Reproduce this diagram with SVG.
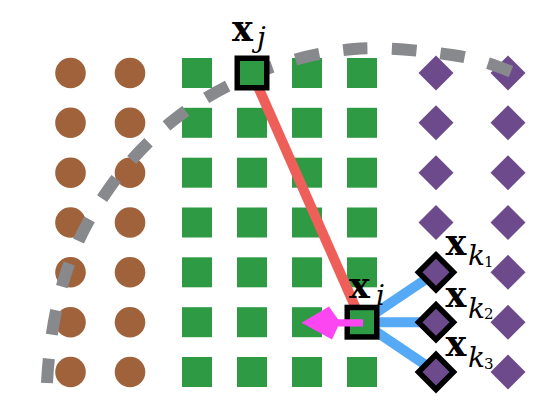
<svg xmlns="http://www.w3.org/2000/svg" xmlns:xlink="http://www.w3.org/1999/xlink" width="560" height="410" viewBox="0 0 560 410">
<style>
.c{fill:#a0623a}
.s{fill:#2f9a44}
.d{fill:#6d4a8b}
.hs{fill:#2f9a44;stroke:#000;stroke-width:5.5}
.hd{fill:#6d4a8b;stroke:#000;stroke-width:5.5;stroke-linejoin:miter}
.b{fill:none;stroke:#87898d;stroke-width:12;stroke-dasharray:24.5 24.2}
.red{stroke:#ee5f5a;stroke-width:10;fill:none}
.blue{stroke:#56a9f5;stroke-width:10;fill:none}
.mx{font-family:"DejaVu Serif",serif;font-weight:bold;font-size:35px;fill:#000}
.mi{font-family:"DejaVu Serif",serif;font-style:italic;font-size:28px;fill:#000}
.md{font-family:"DejaVu Serif",serif;font-size:15px;fill:#000}
</style>
<defs>
<circle id="circ" r="15.3"/>
<rect id="sq" x="-15" y="-15" width="30" height="30"/>
<path id="dia" d="M0,-17.5L17.5,0L0,17.5L-17.5,0Z"/>
<rect id="hsq" x="-14.75" y="-14.75" width="29.5" height="29.5"/>
</defs>
<rect width="560" height="410" fill="#fff"/>
<g id="class-a">
<g id="a11"><use xlink:href="#circ" class="c" x="70.5" y="73"/></g>
<g id="a12"><use xlink:href="#circ" class="c" x="70.5" y="122.8"/></g>
<g id="a13"><use xlink:href="#circ" class="c" x="70.5" y="172.7"/></g>
<g id="a14"><use xlink:href="#circ" class="c" x="70.5" y="222.5"/></g>
<g id="a15"><use xlink:href="#circ" class="c" x="70.5" y="272.3"/></g>
<g id="a16"><use xlink:href="#circ" class="c" x="70.5" y="322.2"/></g>
<g id="a17"><use xlink:href="#circ" class="c" x="70.5" y="372"/></g>
<g id="a21"><use xlink:href="#circ" class="c" x="130" y="73"/></g>
<g id="a22"><use xlink:href="#circ" class="c" x="130" y="122.8"/></g>
<g id="a23"><use xlink:href="#circ" class="c" x="130" y="172.7"/></g>
<g id="a24"><use xlink:href="#circ" class="c" x="130" y="222.5"/></g>
<g id="a25"><use xlink:href="#circ" class="c" x="130" y="272.3"/></g>
<g id="a26"><use xlink:href="#circ" class="c" x="130" y="322.2"/></g>
<g id="a27"><use xlink:href="#circ" class="c" x="130" y="372"/></g>
</g>
<g id="class-b">
<g id="b11"><use xlink:href="#sq" class="s" x="197" y="73"/></g>
<g id="b12"><use xlink:href="#sq" class="s" x="197" y="122.8"/></g>
<g id="b13"><use xlink:href="#sq" class="s" x="197" y="172.7"/></g>
<g id="b14"><use xlink:href="#sq" class="s" x="197" y="222.5"/></g>
<g id="b15"><use xlink:href="#sq" class="s" x="197" y="272.3"/></g>
<g id="b16"><use xlink:href="#sq" class="s" x="197" y="322.2"/></g>
<g id="b17"><use xlink:href="#sq" class="s" x="197" y="372"/></g>
<g id="b22"><use xlink:href="#sq" class="s" x="252" y="122.8"/></g>
<g id="b23"><use xlink:href="#sq" class="s" x="252" y="172.7"/></g>
<g id="b24"><use xlink:href="#sq" class="s" x="252" y="222.5"/></g>
<g id="b25"><use xlink:href="#sq" class="s" x="252" y="272.3"/></g>
<g id="b26"><use xlink:href="#sq" class="s" x="252" y="322.2"/></g>
<g id="b27"><use xlink:href="#sq" class="s" x="252" y="372"/></g>
<g id="b31"><use xlink:href="#sq" class="s" x="307" y="73"/></g>
<g id="b32"><use xlink:href="#sq" class="s" x="307" y="122.8"/></g>
<g id="b33"><use xlink:href="#sq" class="s" x="307" y="172.7"/></g>
<g id="b34"><use xlink:href="#sq" class="s" x="307" y="222.5"/></g>
<g id="b35"><use xlink:href="#sq" class="s" x="307" y="272.3"/></g>
<g id="b36"><use xlink:href="#sq" class="s" x="307" y="322.2"/></g>
<g id="b37"><use xlink:href="#sq" class="s" x="307" y="372"/></g>
<g id="b41"><use xlink:href="#sq" class="s" x="362" y="73"/></g>
<g id="b42"><use xlink:href="#sq" class="s" x="362" y="122.8"/></g>
<g id="b43"><use xlink:href="#sq" class="s" x="362" y="172.7"/></g>
<g id="b44"><use xlink:href="#sq" class="s" x="362" y="222.5"/></g>
<g id="b45"><use xlink:href="#sq" class="s" x="362" y="272.3"/></g>
<g id="b47"><use xlink:href="#sq" class="s" x="362" y="372"/></g>
</g>
<g id="class-c">
<g id="c11"><use xlink:href="#dia" class="d" x="436" y="73"/></g>
<g id="c12"><use xlink:href="#dia" class="d" x="436" y="122.8"/></g>
<g id="c13"><use xlink:href="#dia" class="d" x="436" y="172.7"/></g>
<g id="c14"><use xlink:href="#dia" class="d" x="436" y="222.5"/></g>
<g id="c21"><use xlink:href="#dia" class="d" x="508" y="73"/></g>
<g id="c22"><use xlink:href="#dia" class="d" x="508" y="122.8"/></g>
<g id="c23"><use xlink:href="#dia" class="d" x="508" y="172.7"/></g>
<g id="c24"><use xlink:href="#dia" class="d" x="508" y="222.5"/></g>
<g id="c25"><use xlink:href="#dia" class="d" x="508" y="272.3"/></g>
<g id="c26"><use xlink:href="#dia" class="d" x="508" y="322.2"/></g>
<g id="c27"><use xlink:href="#dia" class="d" x="508" y="372"/></g>
</g>
<g id="boundary">
<path class="b" pathLength="657.6" d="M47,383 C48.8,347 54.8,308.2 65,276 C75.2,243.8 89.7,216.2 108,190 C126.3,163.8 149.5,138.8 175,119 C200.5,99.2 231.2,82.7 261,71 C290.8,59.3 322.2,51.7 354,49 C385.8,46.3 425.8,51.25 452,55 C478.2,58.75 492.4,64.3 511,71.5"/>
</g>
<g id="connectors">
<line class="red" x1="252" y1="73" x2="362" y2="322.2"/>
<line class="blue" x1="362" y1="322.2" x2="436" y2="272.3"/>
<line class="blue" x1="362" y1="322.2" x2="436" y2="322.2"/>
<line class="blue" x1="362" y1="322.2" x2="436" y2="372"/>
</g>
<g id="xj"><use xlink:href="#hsq" class="hs" x="252" y="73"/></g>
<g id="xi"><use xlink:href="#hsq" class="hs" x="362" y="322.2"/></g>
<g id="xk1"><use xlink:href="#dia" class="hd" x="436" y="272.3"/></g>
<g id="xk2"><use xlink:href="#dia" class="hd" x="436" y="322.2"/></g>
<g id="xk3"><use xlink:href="#dia" class="hd" x="436" y="372"/></g>
<g id="arrow">
<polygon fill="#fb46f2" points="301.5,322.8 329,306.5 338,319.3 363,319.3 363,326.5 338,326.5 332,339.5"/>
</g>
<g id="labels">
<text x="232" y="41"><tspan class="mx">x</tspan><tspan class="mi" x="257" y="47">j</tspan></text>
<text x="349" y="297.5"><tspan class="mx">x</tspan><tspan class="mi" x="376" y="305">i</tspan></text>
<text x="445.5" y="255"><tspan class="mx">x</tspan><tspan class="mi" x="468" y="265">k</tspan><tspan class="md" x="484" y="267">1</tspan></text>
<text x="445.5" y="307"><tspan class="mx">x</tspan><tspan class="mi" x="468" y="318">k</tspan><tspan class="md" x="484" y="318.5">2</tspan></text>
<text x="445.5" y="355.5"><tspan class="mx">x</tspan><tspan class="mi" x="468" y="367">k</tspan><tspan class="md" x="484" y="368.5">3</tspan></text>
</g>
</svg>
